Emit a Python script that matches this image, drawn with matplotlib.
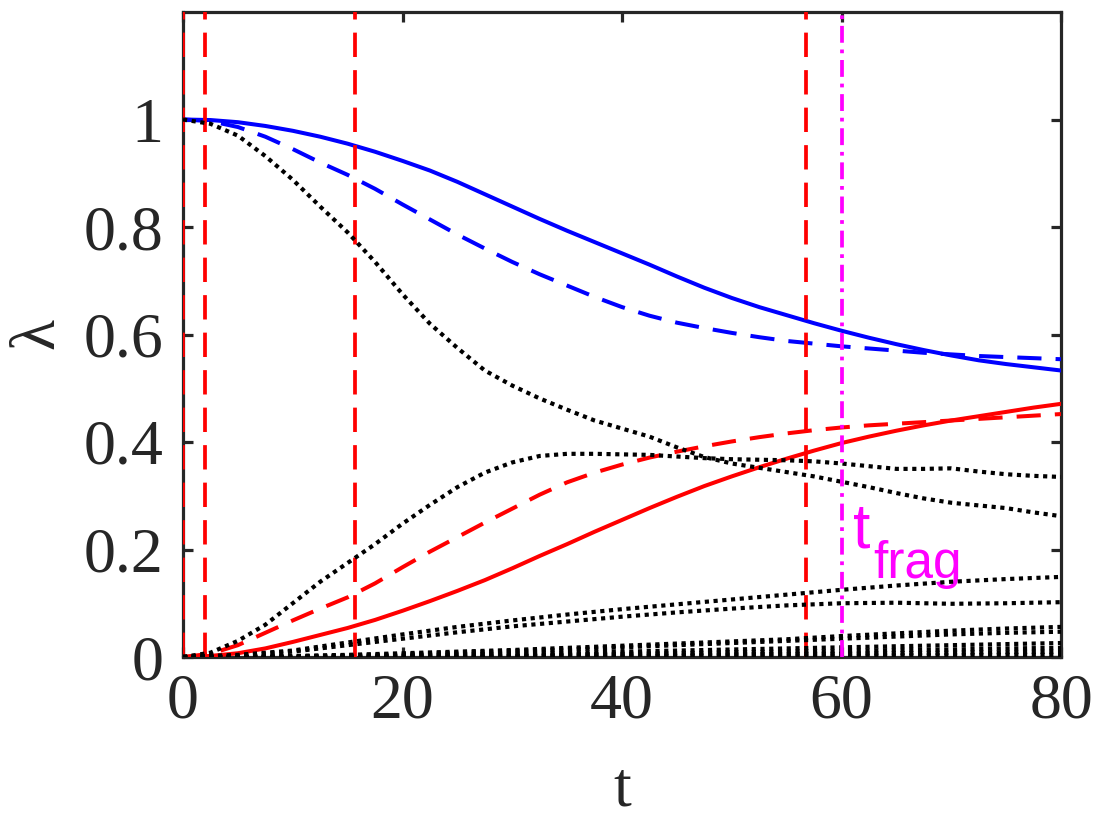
import matplotlib
matplotlib.use("Agg")
import matplotlib.pyplot as plt

# ---------------- data ----------------
t = [0, 2.5, 5, 7.5, 10, 12.5, 15, 17.5, 20, 22.5, 25, 27.5, 30, 32.5, 35, 37.5,
     40, 42.5, 45, 47.5, 50, 52.5, 55, 57.5, 60, 62.5, 65, 67.5, 70, 72.5, 75, 77.5, 80]

blue_solid = [1.000, 0.999, 0.995, 0.988, 0.979, 0.968, 0.955, 0.940, 0.923, 0.905, 0.884,
              0.861, 0.838, 0.815, 0.793, 0.772, 0.751, 0.730, 0.708, 0.687, 0.668, 0.651,
              0.636, 0.621, 0.607, 0.594, 0.582, 0.571, 0.561, 0.552, 0.545, 0.539, 0.533]
blue_dashed = [1.000, 0.997, 0.986, 0.968, 0.945, 0.920, 0.897, 0.871, 0.842, 0.814, 0.786,
               0.760, 0.735, 0.712, 0.691, 0.670, 0.651, 0.635, 0.622, 0.612, 0.603, 0.595,
               0.588, 0.583, 0.578, 0.574, 0.570, 0.566, 0.563, 0.560, 0.558, 0.556, 0.554]
red_solid = [0.000, 0.002, 0.007, 0.016, 0.028, 0.041, 0.054, 0.069, 0.086, 0.104, 0.123,
             0.143, 0.165, 0.188, 0.210, 0.233, 0.255, 0.277, 0.298, 0.318, 0.336, 0.353,
             0.369, 0.384, 0.398, 0.410, 0.421, 0.431, 0.440, 0.448, 0.456, 0.464, 0.471]
red_dashed = [0.000, 0.006, 0.022, 0.045, 0.068, 0.090, 0.111, 0.137, 0.167, 0.196, 0.223,
              0.250, 0.276, 0.302, 0.325, 0.343, 0.358, 0.371, 0.382, 0.392, 0.401, 0.409,
              0.416, 0.422, 0.427, 0.431, 0.434, 0.437, 0.440, 0.443, 0.446, 0.449, 0.452]
dot_down = [1.000, 0.992, 0.970, 0.932, 0.888, 0.838, 0.790, 0.735, 0.675, 0.620, 0.575,
            0.533, 0.505, 0.481, 0.460, 0.440, 0.425, 0.410, 0.390, 0.372, 0.360, 0.352,
            0.344, 0.336, 0.326, 0.316, 0.305, 0.295, 0.287, 0.282, 0.277, 0.269, 0.262]
dot_up = [0.000, 0.008, 0.030, 0.060, 0.100, 0.140, 0.175, 0.210, 0.248, 0.283, 0.316,
          0.343, 0.362, 0.374, 0.378, 0.378, 0.377, 0.376, 0.373, 0.370, 0.368, 0.367,
          0.366, 0.364, 0.360, 0.355, 0.350, 0.350, 0.351, 0.345, 0.340, 0.337, 0.335]

t_small = [0, 5, 10, 15, 20, 25, 30, 35, 40, 45, 50, 55, 60, 65, 70, 75, 80]
dot_a = [0, 0.004, 0.012, 0.027, 0.042, 0.056, 0.068, 0.079, 0.089, 0.098, 0.107, 0.116,
         0.125, 0.133, 0.140, 0.145, 0.149]
dot_b = [0, 0.003, 0.010, 0.022, 0.034, 0.046, 0.057, 0.066, 0.075, 0.083, 0.090, 0.096,
         0.100, 0.101, 0.099, 0.100, 0.102]
dot_c = [0, 0.000, 0.002, 0.004, 0.007, 0.010, 0.013, 0.017, 0.021, 0.025, 0.029, 0.033,
         0.039, 0.044, 0.049, 0.053, 0.056]
dot_d = [0, 0.000, 0.001, 0.003, 0.005, 0.008, 0.011, 0.014, 0.018, 0.022, 0.026, 0.030,
         0.034, 0.038, 0.042, 0.045, 0.047]
dot_e = [0, 0.000, 0.001, 0.002, 0.003, 0.005, 0.006, 0.008, 0.010, 0.012, 0.014, 0.016,
         0.018, 0.020, 0.022, 0.024, 0.026]
dot_f = [0, 0.000, 0.000, 0.001, 0.002, 0.003, 0.004, 0.005, 0.006, 0.007, 0.009, 0.010,
         0.011, 0.013, 0.014, 0.016, 0.017]
dot_g = [0, 0.000, 0.000, 0.000, 0.001, 0.001, 0.002, 0.003, 0.003, 0.004, 0.005, 0.006,
         0.006, 0.007, 0.008, 0.009, 0.010]
dot_h = [0, 0.000, 0.000, 0.000, 0.000, 0.000, 0.001, 0.001, 0.001, 0.002, 0.002, 0.002,
         0.003, 0.003, 0.003, 0.004, 0.004]

red_vlines = [0, 2.0, 15.7, 56.8]
t_frag = 60.0

x_ticks = [0, 20, 40, 60, 80]
y_ticks = [0, 0.2, 0.4, 0.6, 0.8, 1.0]
y_ticklabels = ["0", "0.2", "0.4", "0.6", "0.8", "1"]

# ---------------- figure ----------------
axis_col = "#262626"
plt.rcParams["font.family"] = ["Liberation Serif", "DejaVu Serif"]

fig = plt.figure(figsize=(11.04, 8.19), dpi=100)
ax = fig.add_axes([183 / 1104, 1 - 657 / 819, 878 / 1104, 645 / 819])

lw = 2.9
ax.plot(t, blue_solid, color="blue", lw=lw, zorder=3)
ax.plot(t, blue_dashed, color="blue", lw=lw, ls=(0, (6, 3.5)), zorder=3)
ax.plot(t, red_solid, color="red", lw=lw, zorder=3)
ax.plot(t, red_dashed, color="red", lw=lw, ls=(0, (6, 3.5)), zorder=3)

for xv in red_vlines:
    ax.axvline(xv, color="red", lw=2.7, ls=(0, (6.5, 3.5)), zorder=3.5)

dot_style = dict(color="black", lw=3.0, ls=(0, (1, 1.1)), zorder=4)
ax.plot(t, dot_down, **dot_style)
ax.plot(t, dot_up, **dot_style)
for s in (dot_a, dot_b, dot_c, dot_d, dot_e, dot_f, dot_g, dot_h):
    ax.plot(t_small, s, **dot_style)

ax.axvline(t_frag, color="magenta", lw=2.7, ls=(0, (4.5, 1.8, 1, 1.8)), zorder=4.5)

ax.text(61.05, 0.2045, "t", color="magenta", fontsize=45,
        family=["Liberation Sans", "DejaVu Sans"], ha="left", va="baseline")
ax.text(62.9, 0.147, "frag", color="magenta", fontsize=37,
        family=["Liberation Sans", "DejaVu Sans"], ha="left", va="baseline")

ax.set_xlim(0, 80)
ax.set_ylim(0, 1.2)
ax.set_xticks(x_ticks)
ax.set_yticks(y_ticks)
ax.set_yticklabels(y_ticklabels)

for sp in ax.spines.values():
    sp.set_color(axis_col)
    sp.set_linewidth(2.3)

ax.tick_params(axis="both", which="major", direction="in", length=7, width=2.3,
               color=axis_col, labelcolor=axis_col, labelsize=46,
               top=True, right=True)
ax.tick_params(axis="x", pad=12)
ax.tick_params(axis="y", pad=14)

ax.text(0.5, -0.231, "t", transform=ax.transAxes, fontsize=46, color=axis_col,
        ha="center", va="baseline")
ax.text(-0.165, 0.502, "λ", transform=ax.transAxes, fontsize=46, color=axis_col,
        ha="center", va="center", rotation=90)

fig.savefig("out.png", dpi=100)
